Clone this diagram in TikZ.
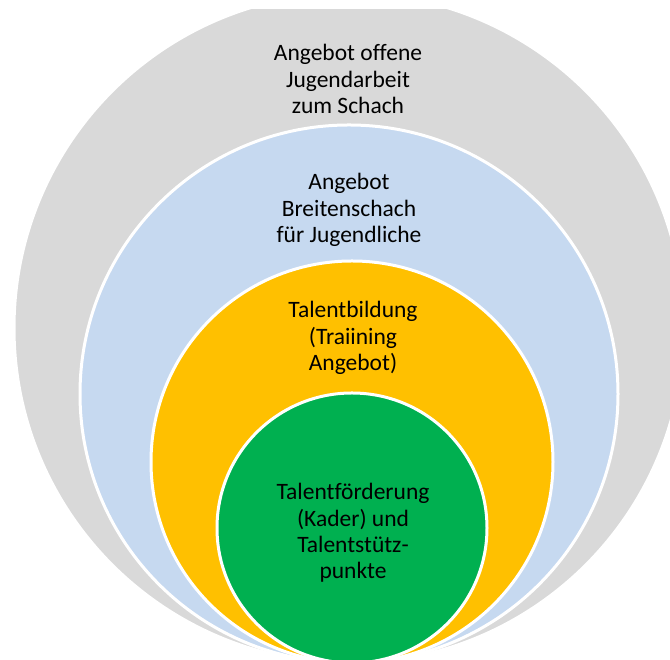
\documentclass[tikz,border=0pt]{standalone}
\usepackage{fontspec}
\setmainfont[Ligatures=NoCommon]{Carlito}
\definecolor{outergrey}{HTML}{D9D9D9}
\definecolor{broadblue}{HTML}{C6D9F0}
\definecolor{talentgold}{HTML}{FFC000}
\definecolor{kadergreen}{HTML}{00B050}
\begin{document}
\begin{tikzpicture}[x=1pt,y=1pt]

        \useasboundingbox (0,0) rectangle (670,660);
        \clip (0,0) rectangle (670,650);

        \begin{scope}[every node/.style={circle,draw=white,line width=3pt,inner sep=0pt}]
          \node[fill=outergrey,minimum size=670pt]  (offen)   at (349,332) {};
          \node[fill=broadblue,minimum size=538pt]  (breite)  at (349,266) {};
          \node[fill=talentgold,minimum size=402pt] (bildung) at (352,198) {};
          \node[fill=kadergreen,minimum size=270pt] (kader)   at (352,132) {};
        \end{scope}

        \begin{scope}[every node/.style={align=center,font=\fontsize{23.5}{26.3}\selectfont}]
          \node (toffen)   at (348,581) {Angebot offene\\Jugendarbeit\\zum Schach};
          \node (tbreite)  at (349,450) {Angebot\\Breitenschach\\für Jugendliche};
          \node (tbildung) at (353,322) {Talentbildung\\(Traiining\\Angebot)};
          \node (tkader)   at (353,127) {Talentförderung\\(Kader) und\\Talentstütz-\\punkte};
        \end{scope}

      \end{tikzpicture}
\end{document}
